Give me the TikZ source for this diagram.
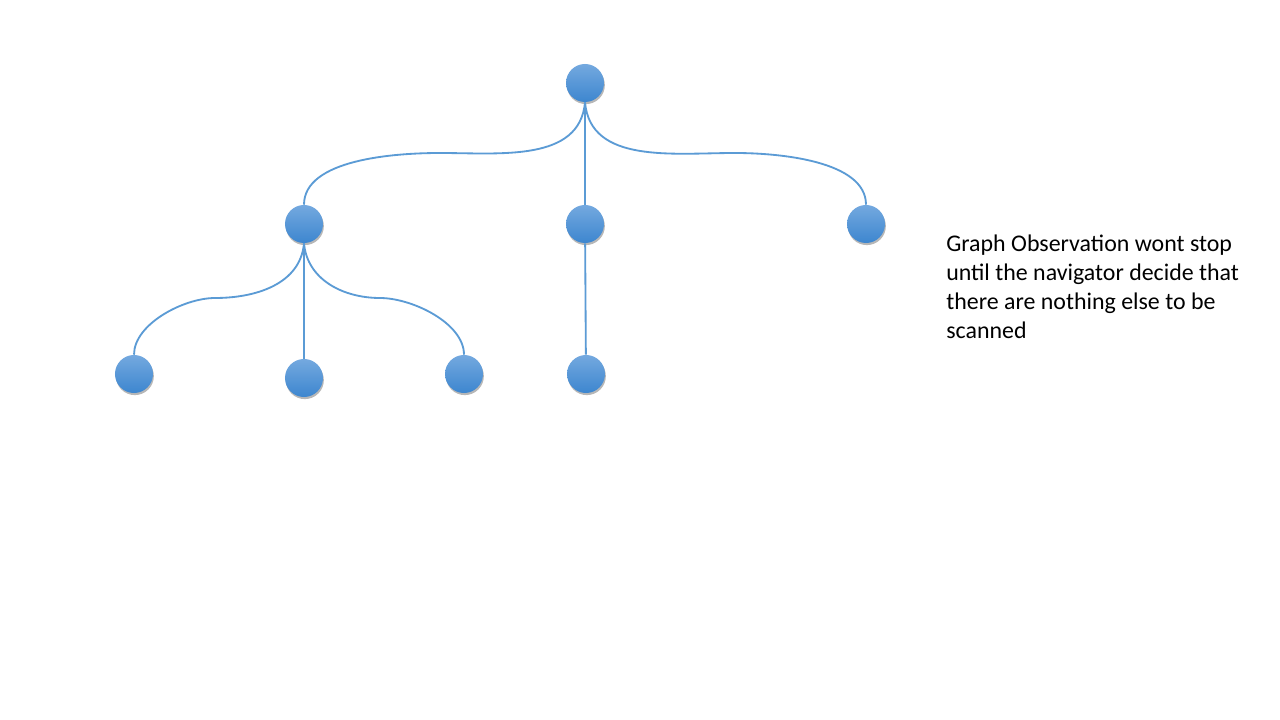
\documentclass[tikz,border=0pt]{standalone}
\usepackage{fontspec}
\setmainfont{Carlito}
\usetikzlibrary{shadows}

\definecolor{balltop}{HTML}{74A9DF}
\definecolor{ballbot}{HTML}{3D86CF}
\definecolor{edgeblue}{HTML}{5B9BD5}

\begin{document}
\begin{tikzpicture}[x=0.025cm,y=-0.025cm]
\tikzset{
  treenode/.style={circle,minimum size=0.95cm,inner sep=0pt,top color=balltop,bottom color=ballbot,
    drop shadow={shadow xshift=0.6pt,shadow yshift=-1.5pt,opacity=0.4,fill=black!70}},
  branch/.style={edgeblue,line width=1.3pt},
  note/.style={align=left,anchor=north west,inner sep=0pt,font=\fontsize{17}{20.6}\selectfont}
}
\useasboundingbox[fill=white] (0,0) rectangle (1280,720);
\node[treenode] (n_r) at (585,83) {};
\node[treenode] (n_a) at (304,224) {};
\node[treenode] (n_b) at (585,224) {};
\node[treenode] (n_c) at (866,224) {};
\node[treenode] (n_a1) at (134,374) {};
\node[treenode] (n_a2) at (304,378) {};
\node[treenode] (n_a3) at (464,374) {};
\node[treenode] (n_b1) at (586,374) {};
\coordinate (k_ra) at (440,153);
\coordinate (k_rc) at (735,153);
\coordinate (k_a1) at (215,298);
\coordinate (k_a3) at (380,298);
\draw[branch] (n_r.south) to[out=-95,in=0] (k_ra) to[out=180,in=90,looseness=0.8] (n_a.north);
\draw[branch] (n_r.south) to[out=-85,in=180] (k_rc) to[out=0,in=90,looseness=0.8] (n_c.north);
\draw[branch] (n_r) -- (n_b);
\draw[branch] (n_a.south) to[out=-95,in=0] (k_a1) to[out=180,in=90,looseness=0.8] (n_a1.north);
\draw[branch] (n_a.south) to[out=-85,in=180] (k_a3) to[out=0,in=90,looseness=0.8] (n_a3.north);
\draw[branch] (n_a) -- (n_a2);
\draw[branch] (n_b) -- (n_b1);
\node[note] (t_obs) at (946,235) {Graph Observation wont stop\\until the navigator decide that\\there are nothing else to be\\scanned};
\end{tikzpicture}
\end{document}
